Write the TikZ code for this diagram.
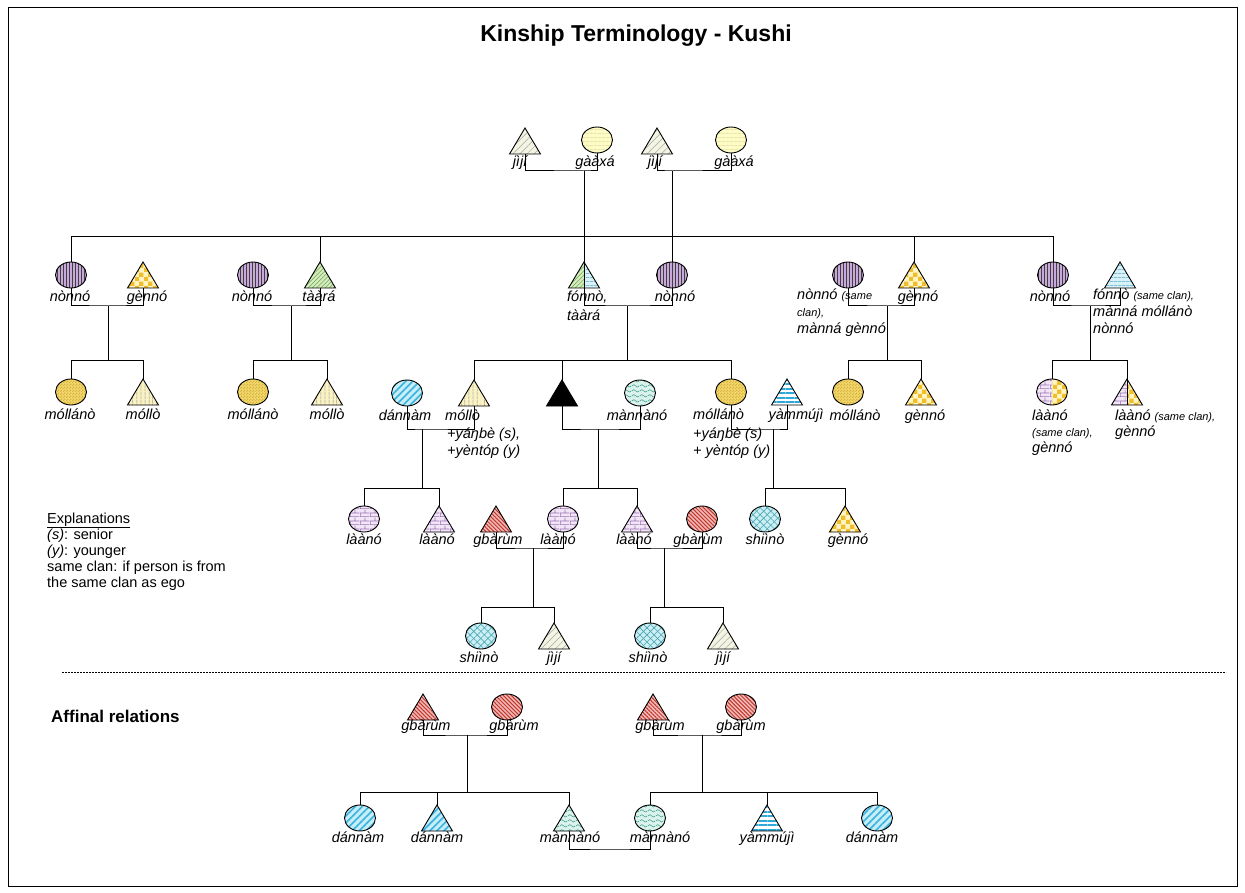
\documentclass[tikz,border=0pt]{standalone}
\usepackage{fontspec}
\setmainfont{Liberation Sans}
\usetikzlibrary{patterns,patterns.meta}

% ---------- colours ----------
\definecolor{jijibg}{HTML}{F4F4E2}
\definecolor{gaaxabg}{HTML}{FDFBC6}
\definecolor{gaaxafg}{HTML}{E2DA9A}
\definecolor{nonnobg}{HTML}{C9A9DC}
\definecolor{gennobg}{HTML}{FFF4C4}
\definecolor{gennofg}{HTML}{F0BE2A}
\definecolor{taarabg}{HTML}{D6ECC0}
\definecolor{taarafg}{HTML}{6AA84F}
\definecolor{fonnobg}{HTML}{DAF1F8}
\definecolor{fonnofg}{HTML}{4AA6CA}
\definecolor{yammfg}{HTML}{2FA8D8}
\definecolor{mollanobg}{HTML}{F3D86C}
\definecolor{mollanofg}{HTML}{D7B340}
\definecolor{mollobg}{HTML}{FBF2C2}
\definecolor{dannambg}{HTML}{C6EDF8}
\definecolor{dannamfg}{HTML}{38B3DD}
\definecolor{mannbg}{HTML}{DAF2EB}
\definecolor{mannfg}{HTML}{3C9D8A}
\definecolor{laanobg}{HTML}{F2E6F6}
\definecolor{laanofg}{HTML}{9A72B5}
\definecolor{gbarumbg}{HTML}{F2B8B8}
\definecolor{gbarumfg}{HTML}{C0392B}
\definecolor{shiinobg}{HTML}{CBEFF3}
\definecolor{shiinofg}{HTML}{4AA5B5}

% ---------- fill patterns ----------
\pgfdeclarepatternformonly{kchecks}{\pgfqpoint{0pt}{0pt}}{\pgfqpoint{9pt}{9pt}}{\pgfqpoint{9pt}{9pt}}{%
  \pgfpathrectangle{\pgfqpoint{0pt}{0pt}}{\pgfqpoint{4.5pt}{4.5pt}}%
  \pgfpathrectangle{\pgfqpoint{4.5pt}{4.5pt}}{\pgfqpoint{4.5pt}{4.5pt}}%
  \pgfusepath{fill}}
\pgfdeclarepatternformonly{kfinechecks}{\pgfqpoint{0pt}{0pt}}{\pgfqpoint{3pt}{3pt}}{\pgfqpoint{3pt}{3pt}}{%
  \pgfpathrectangle{\pgfqpoint{0pt}{0pt}}{\pgfqpoint{1.5pt}{1.5pt}}%
  \pgfpathrectangle{\pgfqpoint{1.5pt}{1.5pt}}{\pgfqpoint{1.5pt}{1.5pt}}%
  \pgfusepath{fill}}
\pgfdeclarepatternformonly{kwaves}{\pgfqpoint{0pt}{0pt}}{\pgfqpoint{8pt}{5pt}}{\pgfqpoint{8pt}{5pt}}{%
  \pgfsetlinewidth{0.6pt}%
  \pgfpathmoveto{\pgfqpoint{0pt}{2.5pt}}%
  \pgfpathcurveto{\pgfqpoint{1.33pt}{4.3pt}}{\pgfqpoint{2.67pt}{4.3pt}}{\pgfqpoint{4pt}{2.5pt}}%
  \pgfpathcurveto{\pgfqpoint{5.33pt}{0.7pt}}{\pgfqpoint{6.67pt}{0.7pt}}{\pgfqpoint{8pt}{2.5pt}}%
  \pgfusepath{stroke}}
\pgfdeclarepatternformonly{kbricks}{\pgfqpoint{0pt}{0pt}}{\pgfqpoint{10pt}{8pt}}{\pgfqpoint{10pt}{8pt}}{%
  \pgfsetlinewidth{0.7pt}%
  \pgfpathmoveto{\pgfqpoint{0pt}{0.35pt}}\pgfpathlineto{\pgfqpoint{10pt}{0.35pt}}%
  \pgfpathmoveto{\pgfqpoint{0pt}{4.35pt}}\pgfpathlineto{\pgfqpoint{10pt}{4.35pt}}%
  \pgfpathmoveto{\pgfqpoint{0.35pt}{0pt}}\pgfpathlineto{\pgfqpoint{0.35pt}{4.35pt}}%
  \pgfpathmoveto{\pgfqpoint{5.35pt}{4.35pt}}\pgfpathlineto{\pgfqpoint{5.35pt}{8pt}}%
  \pgfusepath{stroke}}

\tikzset{
  con/.style={draw=black, line width=1pt},
  symline/.style={draw=black, line width=0.9pt},
  symbox/.style={shape=rectangle, minimum width=31pt, minimum height=26pt, inner sep=0pt, outer sep=0pt},
  lab/.style={font=\fontsize{14.5}{17}\selectfont\itshape, inner sep=0pt},
  txt/.style={font=\fontsize{14.5}{17}\selectfont, inner sep=0pt, anchor=base west},
  fjiji/.style={preaction={fill=jijibg}, pattern={Lines[angle=45,distance=5pt,line width=0.5pt]}, pattern color=black!35},
  fgaaxa/.style={preaction={fill=gaaxabg}, pattern={Lines[angle=0,distance=4pt,line width=0.5pt]}, pattern color=gaaxafg},
  fnonno/.style={preaction={fill=nonnobg}, pattern={Lines[angle=90,distance=3pt,line width=0.6pt]}, pattern color=black!75},
  fgenno/.style={preaction={fill=gennobg}, pattern=kchecks, pattern color=gennofg},
  ftaara/.style={preaction={fill=taarabg}, pattern={Lines[angle=45,distance=3pt,line width=0.6pt]}, pattern color=taarafg},
  ffonno/.style={preaction={fill=fonnobg}, pattern={Lines[angle=0,distance=4pt,line width=0.8pt]}, pattern color=fonnofg},
  fyamm/.style={preaction={fill=white}, pattern={Lines[angle=0,distance=4.5pt,line width=2pt]}, pattern color=yammfg},
  fmollano/.style={preaction={fill=mollanobg}, pattern=kfinechecks, pattern color=mollanofg},
  fmollo/.style={preaction={fill=mollobg}, pattern={Lines[angle=90,distance=4pt,line width=0.6pt]}, pattern color=black!60},
  fdannam/.style={preaction={fill=dannambg}, pattern={Lines[angle=45,distance=5pt,line width=1.6pt]}, pattern color=dannamfg},
  fego/.style={fill=black},
  fmann/.style={preaction={fill=mannbg}, pattern=kwaves, pattern color=mannfg},
  flaano/.style={preaction={fill=laanobg}, pattern=kbricks, pattern color=laanofg},
  fgbarum/.style={preaction={fill=gbarumbg}, pattern={Lines[angle=-45,distance=2.8pt,line width=1pt]}, pattern color=gbarumfg},
  fshiino/.style={preaction={fill=shiinobg}, pattern={Lines[angle=45,distance=5pt,line width=0.6pt]}, pattern color=shiinofg,
    postaction={pattern={Lines[angle=-45,distance=5pt,line width=0.6pt]}, pattern color=shiinofg}},
}

% male symbol (triangle) and female symbol (ellipse)
\newcommand\kTri[4]{%
  \node[symbox] (#1) at (#2,#3) {};
  \path[#4] (#1.south west) -- (#1.south east) -- (#1.north) -- cycle;
  \draw[symline] (#1.south west) -- (#1.south east) -- (#1.north) -- cycle;}
\newcommand\kEll[4]{%
  \node[symbox] (#1) at (#2,#3) {};
  \path[#4] (#1.center) ellipse[x radius=15.5pt, y radius=13pt];
  \draw[symline] (#1.center) ellipse[x radius=15.5pt, y radius=13pt];}
% symbols split into two halves
\newcommand\kTriHalf[5]{%
  \node[symbox] (#1) at (#2,#3) {};
  \begin{scope}\clip (#1.south west) rectangle (#1.north);
    \path[#4] (#1.south west) -- (#1.south east) -- (#1.north) -- cycle;\end{scope}
  \begin{scope}\clip (#1.north) rectangle (#1.south east);
    \path[#5] (#1.south west) -- (#1.south east) -- (#1.north) -- cycle;\end{scope}
  \draw[symline] (#1.south west) -- (#1.south east) -- (#1.north) -- cycle;
  \draw[symline] (#1.north) -- (#1.south);}
\newcommand\kEllHalf[5]{%
  \node[symbox] (#1) at (#2,#3) {};
  \begin{scope}\clip (#1.south west) rectangle (#1.north);
    \path[#4] (#1.center) ellipse[x radius=15.5pt, y radius=13pt];\end{scope}
  \begin{scope}\clip (#1.north) rectangle (#1.south east);
    \path[#5] (#1.center) ellipse[x radius=15.5pt, y radius=13pt];\end{scope}
  \draw[symline] (#1.center) ellipse[x radius=15.5pt, y radius=13pt];}
% labels: centred or left aligned, positioned on their baseline
\newcommand\lab[4]{\node[lab, anchor=base] (#1) at (#2,#3) {#4};}
\newcommand\labw[4]{\node[lab, anchor=base west] (#1) at (#2,#3) {#4};}
\newcommand\sm[1]{{\fontsize{11}{13}\selectfont #1}}
% marriage line under two partners, through a named coordinate
\newcommand\couple[3]{\draw[con] (#1.south) |- (#3) -| (#2.south);}

\begin{document}
\begin{tikzpicture}[x=1pt,y=-1pt]
\useasboundingbox (0,0) rectangle (1245,893);
\fill[white] (0,0) rectangle (1245,893);
\draw[line width=1pt] (8,8) rectangle (1237,886);

\node[font=\fontsize{23}{27}\selectfont\bfseries, inner sep=0pt] (title) at (636,36) {Kinship Terminology - Kushi};

% ---------- grandparents ----------
\kTri{gfa}{525}{141}{fjiji}   \lab{lgfa}{520}{167}{jìjí}
\kEll{gmo}{597}{140}{fgaaxa}  \lab{lgmo}{595}{167}{gààxá}
\kTri{ogfa}{657}{141}{fjiji}  \lab{logfa}{655}{167}{jìjí}
\kEll{ogmo}{731}{140}{fgaaxa} \lab{logmo}{734}{167}{gààxá}
\coordinate (u1) at (584,171);
\coordinate (u2) at (672,171);
\couple{gfa}{gmo}{u1}
\couple{ogfa}{ogmo}{u2}

% ---------- parents' generation ----------
\kEll{a1}{71}{275}{fnonno}    \lab{la1}{70}{302}{nònnó}
\kTri{a2}{143}{275}{fgenno}   \lab{la2}{147}{302}{gènnó}
\kEll{a3}{253}{275}{fnonno}   \lab{la3}{252}{302}{nònnó}
\kTri{a4}{320}{275}{ftaara}   \lab{la4}{319}{302}{tààrá}
\kTriHalf{fa}{584}{275}{ftaara}{ffonno}
\labw{lfa1}{567}{302}{fónnò,}
\labw{lfa2}{567}{320}{tààrá}
\kEll{mo}{672}{275}{fnonno}   \lab{lmo}{675}{302}{nònnó}
\kEll{a5}{848}{275}{fnonno}
\labw{la5a}{797}{300}{nònnó \sm{(same}}
\labw{la5b}{797}{317}{\sm{clan),}}
\labw{la5c}{797}{334}{mànná gènnó}
\kTri{a6}{914}{275}{fgenno}   \lab{la6}{918}{302}{gènnó}
\kEll{a7}{1053}{275}{fnonno}  \lab{la7}{1050}{302}{nònnó}
\kTri{a8}{1120}{275}{ffonno}
\labw{la8a}{1093}{300}{fónnò \sm{(same clan),}}
\labw{la8b}{1093}{317}{mànná móllánò}
\labw{la8c}{1093}{334}{nònnó}

\coordinate (barA) at (0,237);
\draw[con] (u1) -- (fa.north);
\draw[con] (a1.north) |- (a7.north |- barA) -- (a7.north);
\draw[con] (a4.north) -- (a4.north |- barA);
\draw[con] (a6.north) -- (a6.north |- barA);
\draw[con] (u2) -- (mo.north);

\coordinate (u3) at (108,306);
\coordinate (u4) at (291,306);
\coordinate (u5) at (627,306);
\coordinate (u6) at (887,306);
\coordinate (u7) at (1090,306);
\couple{a1}{a2}{u3}
\couple{a3}{a4}{u4}
\couple{fa}{mo}{u5}
\couple{a5}{a6}{u6}
\couple{a7}{a8}{u7}

% ---------- ego's generation ----------
\coordinate (barB) at (0,360);
\kEll{b1}{71}{392}{fmollano}  \lab{lb1}{70}{419}{móllánò}
\kTri{b2}{143}{392}{fmollo}   \lab{lb2}{143}{419}{móllò}
\kEll{b3}{253}{392}{fmollano} \lab{lb3}{253}{419}{móllánò}
\kTri{b4}{327}{392}{fmollo}   \lab{lb4}{327}{419}{móllò}
\kEll{d1}{407}{393}{fdannam}  \lab{ld1}{405}{420}{dánnàm}
\kTri{s1}{474}{393}{fmollo}
\labw{ls1a}{445}{420}{móllò}
\labw{ls1b}{447}{438}{+yáŋbè (s),}
\labw{ls1c}{447}{455}{+yèntóp (y)}
\kTri{ego}{562}{393}{fego}
\kEll{w1}{640}{393}{fmann}    \lab{lw1}{637}{420}{mànnànó}
\kEll{s2}{731}{392}{fmollano}
\labw{ls2a}{693}{419}{móllánò}
\labw{ls2b}{693}{438}{+yáŋbè (s)}
\labw{ls2c}{693}{455}{+ yèntóp (y)}
\kTri{h1}{787}{392}{fyamm}    \lab{lh1}{796}{419}{yàmmújì}
\kEll{b5}{848}{392}{fmollano} \lab{lb5}{855}{420}{móllánò}
\kTri{b6}{921}{392}{fgenno}   \lab{lb6}{925}{420}{gènnó}
\kEllHalf{c1}{1052}{392}{flaano}{fgenno}
\labw{lc1a}{1032}{420}{làànó}
\labw{lc1b}{1032}{436}{\sm{(same clan),}}
\labw{lc1c}{1032}{452}{gènnó}
\kTriHalf{c2}{1127}{392}{flaano}{fgenno}
\labw{lc2a}{1115}{420}{làànó \sm{(same clan),}}
\labw{lc2b}{1115}{436}{gènnó}

\draw[con] (u3) -- (u3 |- barB);
\draw[con] (b1.north) |- (b2.north |- barB) -- (b2.north);
\draw[con] (u4) -- (u4 |- barB);
\draw[con] (b3.north) |- (b4.north |- barB) -- (b4.north);
\draw[con] (u5) -- (u5 |- barB);
\draw[con] (s1.north) |- (s2.north |- barB) -- (s2.north);
\draw[con] (ego.north) -- (ego.north |- barB);
\draw[con] (u6) -- (u6 |- barB);
\draw[con] (b5.north) |- (b6.north |- barB) -- (b6.north);
\draw[con] (u7) -- (u7 |- barB);
\draw[con] (c1.north) |- (c2.north |- barB) -- (c2.north);

\coordinate (u8) at (422,429);
\coordinate (u9) at (598,429);
\coordinate (u10) at (773,429);
\couple{d1}{s1}{u8}
\couple{ego}{w1}{u9}
\couple{s2}{h1}{u10}

% ---------- children's generation ----------
\coordinate (barC) at (0,488);
\kEll{e1}{364}{519}{flaano}   \lab{le1}{364}{544}{làànó}
\kTri{e2}{439}{519}{flaano}   \lab{le2}{437}{544}{làànó}
\kTri{r1}{496}{519}{fgbarum}  \lab{lr1}{498}{544}{gbàrùm}
\kEll{e3}{563}{519}{flaano}   \lab{le3}{558}{544}{làànó}
\kTri{e4}{637}{519}{flaano}   \lab{le4}{634}{544}{làànó}
\kEll{r2}{702}{519}{fgbarum}  \lab{lr2}{698}{544}{gbàrùm}
\kEll{k1}{765}{519}{fshiino}  \lab{lk1}{765}{544}{shiìnò}
\kTri{k2}{845}{519}{fgenno}   \lab{lk2}{848}{544}{gènnó}

\draw[con] (u8) -- (u8 |- barC);
\draw[con] (e1.north) |- (e2.north |- barC) -- (e2.north);
\draw[con] (u9) -- (u9 |- barC);
\draw[con] (e3.north) |- (e4.north |- barC) -- (e4.north);
\draw[con] (u10) -- (u10 |- barC);
\draw[con] (k1.north) |- (k2.north |- barC) -- (k2.north);

\coordinate (u11) at (533,548);
\coordinate (u12) at (664,548);
\couple{r1}{e3}{u11}
\couple{e4}{r2}{u12}

% ---------- grandchildren ----------
\coordinate (barD) at (0,607);
\kEll{f1}{481}{636}{fshiino}  \lab{lf1}{479}{662}{shiìnò}
\kTri{f2}{554}{636}{fjiji}    \lab{lf2}{554}{662}{jìjí}
\kEll{f3}{650}{636}{fshiino}  \lab{lf3}{648}{662}{shiìnò}
\kTri{f4}{723}{636}{fjiji}    \lab{lf4}{723}{662}{jìjí}
\draw[con] (u11) -- (u11 |- barD);
\draw[con] (f1.north) |- (f2.north |- barD) -- (f2.north);
\draw[con] (u12) -- (u12 |- barD);
\draw[con] (f3.north) |- (f4.north |- barD) -- (f4.north);

% ---------- key ----------
\node[txt] (ex1) at (47,523) {\underline{Explanations}};
\node[txt] (ex2) at (47,539) {\textit{(s)}: senior};
\node[txt] (ex3) at (47,555) {\textit{(y)}: younger};
\node[txt] (ex4) at (47,571) {same clan: if person is from};
\node[txt] (ex5) at (47,587) {the same clan as ego};

% ---------- separator ----------
\coordinate (sepL) at (62,672);
\coordinate (sepR) at (1226,672);
\draw[line width=0.6pt, dash pattern=on 2pt off 1pt] (sepL) -- (sepR);

% ---------- affinal relations ----------
\node[font=\fontsize{17}{20}\selectfont\bfseries, inner sep=0pt, anchor=base west] (aff) at (51,722) {Affinal relations};

\kTri{xa1}{423}{707}{fgbarum}  \lab{lxa1}{426}{730}{gbàrùm}
\kEll{xa2}{507}{707}{fgbarum}  \lab{lxa2}{514}{730}{gbàrùm}
\kTri{xa3}{653}{707}{fgbarum}  \lab{lxa3}{660}{730}{gbàrùm}
\kEll{xa4}{741}{707}{fgbarum}  \lab{lxa4}{741}{730}{gbàrùm}
\coordinate (v1) at (467,735);
\coordinate (v2) at (702,735);
\couple{xa1}{xa2}{v1}
\couple{xa3}{xa4}{v2}

\coordinate (barX) at (0,792);
\kEll{xb1}{360}{818}{fdannam}  \lab{lxb1}{358}{842}{dánnàm}
\kTri{xb2}{437}{818}{fdannam}  \lab{lxb2}{437}{842}{dánnàm}
\kTri{xb3}{569}{818}{fmann}    \lab{lxb3}{570}{842}{mànnànó}
\kEll{xb4}{650}{818}{fmann}    \lab{lxb4}{660}{842}{mànnànó}
\kTri{xb5}{767}{818}{fyamm}    \lab{lxb5}{767}{842}{yàmmújì}
\kEll{xb6}{877}{818}{fdannam}  \lab{lxb6}{872}{842}{dánnàm}
\draw[con] (v1) -- (v1 |- barX);
\draw[con] (xb1.north) |- (xb3.north |- barX) -- (xb3.north);
\draw[con] (xb2.north) -- (xb2.north |- barX);
\draw[con] (v2) -- (v2 |- barX);
\draw[con] (xb4.north) |- (xb6.north |- barX) -- (xb6.north);
\draw[con] (xb5.north) -- (xb5.north |- barX);
\coordinate (lk) at (610,849);
\couple{xb3}{xb4}{lk}
\end{tikzpicture}
\end{document}
